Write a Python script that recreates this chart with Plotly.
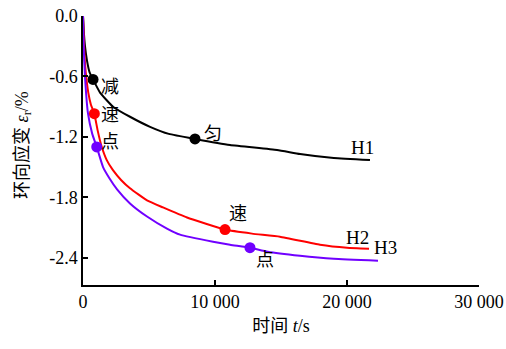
import plotly.graph_objects as go

# H1 (black)
t_h1 = [0, 60, 150, 300, 500, 760, 1290, 2270, 3560, 5080, 6500, 8485, 11140, 14700, 16440, 19000, 21740]
e_h1 = [0, -0.15, -0.30, -0.44, -0.56, -0.63, -0.76, -0.90, -1.00, -1.10, -1.17, -1.22, -1.28, -1.33, -1.37, -1.41, -1.43]
# H2 (red)
t_h2 = [0, 80, 200, 400, 600, 860, 1100, 1400, 1800, 2270, 2900, 3560, 4850, 6060, 7880, 10760, 12800, 14920, 17950, 20000, 21670]
e_h2 = [0, -0.30, -0.55, -0.76, -0.88, -0.97, -1.13, -1.29, -1.43, -1.53, -1.63, -1.71, -1.83, -1.90, -2.00, -2.12, -2.16, -2.19, -2.27, -2.30, -2.31]
# H3 (purple)
t_h3 = [0, 50, 150, 380, 700, 1040, 1520, 2000, 2580, 3560, 4850, 6360, 7350, 9850, 11140, 12650, 14000, 16440, 19000, 22350]
e_h3 = [0, -0.30, -0.60, -0.97, -1.17, -1.30, -1.50, -1.61, -1.72, -1.86, -1.99, -2.11, -2.17, -2.24, -2.27, -2.30, -2.34, -2.38, -2.41, -2.43]

# marker points: deceleration point and uniform/steady point
mk_t = {"H1": [760, 8485], "H2": [860, 10760], "H3": [1040, 12650]}
mk_e = {"H1": [-0.63, -1.22], "H2": [-0.97, -2.12], "H3": [-1.30, -2.30]}

x_ticks = [0, 10000, 20000, 30000]
x_tick_text = ["0", "10 000", "20 000", "30 000"]
y_ticks = [0, -0.6, -1.2, -1.8, -2.4]
y_tick_text = ["0.0", "-0.6", "-1.2", "-1.8", "-2.4"]

colors = {"H1": "#000000", "H2": "#ff0000", "H3": "#7000ff"}
series = {"H1": (t_h1, e_h1), "H2": (t_h2, e_h2), "H3": (t_h3, e_h3)}

fig = go.Figure()
for name, (t, e) in series.items():
    fig.add_trace(go.Scatter(x=t, y=e, mode="lines", line=dict(color=colors[name], width=2, shape="spline", smoothing=0.4),
                             showlegend=False, hoverinfo="skip"))
    fig.add_trace(go.Scatter(x=mk_t[name], y=mk_e[name], mode="markers",
                             marker=dict(color=colors[name], size=11), showlegend=False))

cjk = "Noto Sans CJK SC"
serif = "Liberation Serif"
ann = [
    ("减", 2050, -0.68, cjk), ("速", 2050, -0.96, cjk), ("点", 2050, -1.23, cjk),
    ("匀", 9850, -1.15, cjk), ("速", 11760, -1.95, cjk), ("点", 13800, -2.40, cjk),
    ("H1", 21140, -1.31, serif), ("H2", 20760, -2.20, serif), ("H3", 22880, -2.30, serif),
]
for txt, x, y, f in ann:
    fig.add_annotation(x=x, y=y, text=txt, showarrow=False,
                       font=dict(family=f, size=18 if f == cjk else 19, color="black"))

# y-axis title (placed as rotated annotation to match reference position)
fig.add_annotation(xref="paper", yref="paper", x=-0.157, y=0.52, xanchor="center", yanchor="middle",
                   textangle=-90, showarrow=False,
                   text="<span style='font-family:Noto Sans CJK SC'>环向应变</span> <i>ε</i><sub>r</sub>/%",
                   font=dict(family=serif, size=18, color="black"))

fig.update_layout(
    width=506, height=349,
    margin=dict(l=83, r=27, t=16, b=64),
    paper_bgcolor="white", plot_bgcolor="white",
    font=dict(family=serif, size=18, color="black"),
)
fig.update_xaxes(range=[0, 30000], tickvals=x_ticks, ticktext=x_tick_text, automargin=False,
                 ticks="inside", ticklen=5, tickwidth=1.5, tickcolor="black",
                 showline=True, linecolor="black", linewidth=1.5, showgrid=False, zeroline=False,
                 title=dict(text="<span style='font-family:Noto Sans CJK SC'>时间</span> <i>t</i>/s",
                            font=dict(size=18), standoff=8))
fig.update_yaxes(range=[-2.67, 0], tickvals=y_ticks, ticktext=y_tick_text, automargin=False,
                 ticks="inside", ticklen=5, tickwidth=1.5, tickcolor="black",
                 showline=True, linecolor="black", linewidth=1.5, showgrid=False, zeroline=False)

fig.write_html("out.html", config={"displayModeBar": False},
               post_script="document.body.style.margin='0';")
